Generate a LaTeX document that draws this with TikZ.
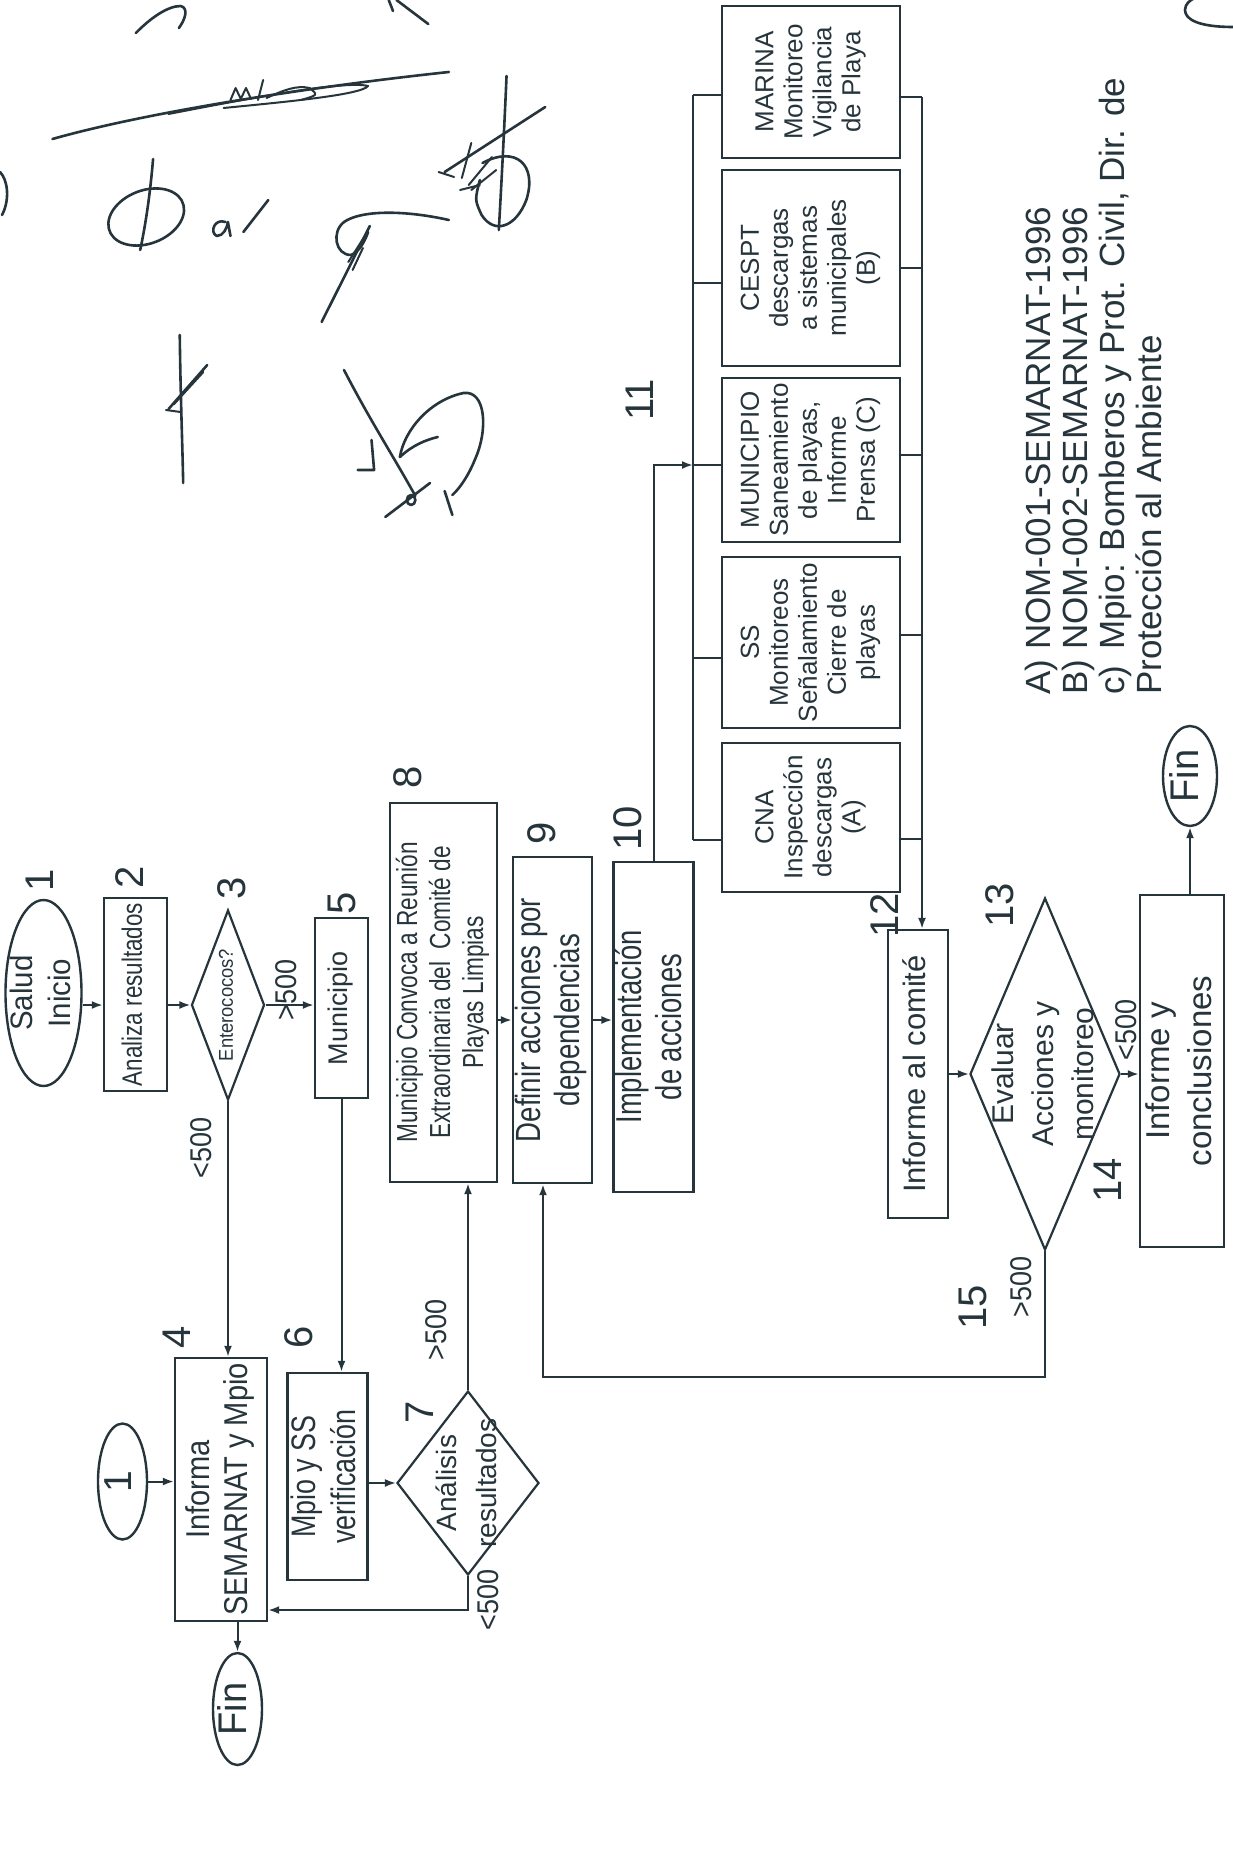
\documentclass[tikz,border=0pt]{standalone}
\usepackage{fontspec}
\setmainfont{Liberation Sans}
\usetikzlibrary{shapes.geometric,arrows.meta,calc}
\definecolor{ink}{RGB}{38,52,60}
\newcommand{\rtxt}[4]{{\fontsize{#1}{#2}\selectfont\rotatebox{90}{\scalebox{#3}[1]{\begin{tabular}{@{}c@{}}#4\end{tabular}}}}}
\begin{document}
\begin{tikzpicture}[x=1pt,y=-1pt,
  box/.style={draw=ink, line width=2.4pt, rectangle, inner sep=0pt, text=ink},
  fbox/.style={box, minimum width=178pt},
  oval/.style={draw=ink, line width=2.4pt, ellipse, inner sep=0pt},
  dia/.style={draw=ink, line width=2.2pt, diamond, inner sep=0pt},
  tx/.style={inner sep=0pt, text=ink},
  arr/.style={draw=ink, line width=2pt, -{Latex[length=11pt,width=8pt]}},
  ln/.style={draw=ink, line width=2pt},
  sig/.style={draw=ink, line width=2.6pt, line cap=round, line join=round}
]
\fill[white] (0,0) rectangle (1233,1852);
\useasboundingbox (0,0) rectangle (1233,1852);

% ---------- left part of the flow ----------
\node[oval, minimum width=76pt, minimum height=186pt] (E1) at (43.5,993) {};
\node[tx] (E1t) at (E1.center) {\rtxt{31}{38}{0.95}{Salud\\Inicio}};
\node[tx] (L1) at (45,880) {\rtxt{40}{44}{1}{1}};

\node[box, minimum width=63pt, minimum height=193pt] (B2) at (135.5,994.5) {\rtxt{28}{32}{0.8}{Analiza resultados}};
\node[tx] (L2) at (135,877) {\rtxt{40}{44}{1}{2}};

\node[dia, minimum width=73pt, minimum height=190pt] (D3) at (228,1005) {};
\node[tx] (D3t) at (D3.center) {\rtxt{20}{24}{0.92}{Enterococos?}};
\node[tx] (L3) at (237,888) {\rtxt{40}{44}{1}{3}};
\node[tx] (G3a) at (290,990) {\rtxt{30}{34}{0.9}{>500}};
\node[tx] (G3b) at (205,1148) {\rtxt{30}{34}{0.9}{<500}};

\node[box, minimum width=53pt, minimum height=180pt] (B5) at (341.5,1008) {\rtxt{27}{31}{1}{Municipio}};
\node[tx] (L5) at (347,903) {\rtxt{40}{44}{1}{5}};

\node[box, minimum width=92pt, minimum height=263pt] (B4) at (221,1489.5) {\rtxt{33}{38}{0.88}{Informa\\SEMARNAT y Mpio}};
\node[tx] (L4) at (182,1337) {\rtxt{40}{44}{1}{4}};

\node[oval, minimum width=49pt, minimum height=116pt] (C1) at (122.5,1481.5) {};
\node[tx] (C1t) at (C1.center) {\rtxt{39}{43}{1}{1}};

\node[oval, minimum width=49pt, minimum height=112pt] (FinB) at (237.5,1709) {};
\node[tx] (FinBt) at (FinB.center) {\rtxt{40}{44}{0.95}{Fin}};

\node[box, minimum width=69pt, minimum height=207pt] (B6) at (327.5,1476.5) {\rtxt{34}{40}{0.79}{Mpio y SS\\verificación}};
\node[tx] (L6) at (304,1337) {\rtxt{40}{44}{1}{6}};

\node[dia, minimum width=142pt, minimum height=184pt] (D7) at (468,1483) {};
\node[tx] (D7t) at (D7.center) {\rtxt{28}{40}{1}{Análisis\\resultados}};
\node[tx] (L7) at (425,1412) {\rtxt{40}{44}{1}{7}};
\node[tx] (G7a) at (440,1330) {\rtxt{30}{34}{0.9}{>500}};
\node[tx] (G7b) at (492,1600) {\rtxt{30}{34}{0.9}{<500}};

\node[box, minimum width=107pt, minimum height=379pt] (B8) at (443.5,992.5) {\rtxt{29}{33}{0.78}{Municipio Convoca a Reunión\\Extraordinaria del\ \ Comité de\\Playas Limpias}};
\node[tx] (L8) at (413,777) {\rtxt{40}{44}{1}{8}};

\node[box, minimum width=79pt, minimum height=326pt] (B9) at (552.5,1020) {\rtxt{35}{39}{0.79}{Definir acciones por\\dependencias}};
\node[tx] (L9) at (547,833) {\rtxt{40}{44}{1}{9}};

\node[box, minimum width=73pt, minimum height=330pt] (B10) at (653.5,1027) {\rtxt{36}{40}{0.76}{Implementación\\de acciones}};
\node[tx] (L10) at (633,828) {\rtxt{40}{44}{1}{10}};
\node[tx] (L11) at (645,400) {\rtxt{40}{44}{1}{11}};

% ---------- fan-out of dependencies ----------
\node[fbox, minimum height=152pt] (MAR) at (811,82) {\rtxt{26}{29}{1}{MARINA\\Monitoreo\\Vigilancia\\de Playa}};
\node[fbox, minimum height=196pt] (CES) at (811,268) {\rtxt{26}{29}{1}{CESPT\\descargas\\a sistemas\\municipales\\(B)}};
\node[fbox, minimum height=164pt] (MUN) at (811,460) {\rtxt{26}{29}{1}{MUNICIPIO\\Saneamiento\\de playas,\\Informe\\Prensa (C)}};
\node[fbox, minimum height=171pt] (SS) at (811,642.5) {\rtxt{26}{29}{1}{SS\\Monitoreos\\Señalamiento\\Cierre de\\playas}};
\node[fbox, minimum height=149pt] (CNA) at (811,817.5) {\rtxt{26}{29}{1}{CNA\\Inspección\\descargas\\(A)}};

% ---------- right part of the flow ----------
\node[box, minimum width=60pt, minimum height=288pt] (B12) at (918,1074) {\rtxt{31}{35}{1}{Informe al comité}};
\node[tx] (L12) at (890,915) {\rtxt{40}{44}{1}{12}};

\node[dia, minimum width=150pt, minimum height=352pt] (D13) at (1045,1074) {};
\node[tx] (D13t) at (D13.center) {\rtxt{30}{40}{1}{Evaluar\\Acciones y\\monitoreo}};
\node[tx] (L13) at (1005,905) {\rtxt{40}{44}{1}{13}};
\node[tx] (L14) at (1113,1180) {\rtxt{40}{44}{1}{14}};
\node[tx] (G13a) at (1130,1030) {\rtxt{30}{34}{0.9}{<500}};
\node[tx] (L15) at (978,1307) {\rtxt{40}{44}{1}{15}};
\node[tx] (G13b) at (1025,1287) {\rtxt{30}{34}{0.9}{>500}};

\node[box, minimum width=70pt, minimum height=352pt] (B14) at (1182,1071) {\rtxt{33}{42}{1}{Informe y\\conclusiones}};
\node[oval, minimum width=54pt, minimum height=100pt] (FinR) at (1190,776) {};
\node[tx] (FinRt) at (FinR.center) {\rtxt{40}{44}{0.95}{Fin}};

% ---------- legend ----------
\node[tx, anchor=south] (N1) at (1043,695) {\rtxt{35}{38}{1}{\makebox[45pt][l]{A)}NOM-001-SEMARNAT-1996}};
\node[tx, anchor=south] (N2) at (1080,695) {\rtxt{35}{38}{1}{\makebox[45pt][l]{B)}NOM-002-SEMARNAT-1996}};
\node[tx, anchor=south] (N3) at (1117,695) {\rtxt{35}{38}{1}{\makebox[45pt][l]{c)}Mpio: Bomberos y Prot. Civil, Dir. de}};
\node[tx, anchor=south] (N4) at (1154,695) {\rtxt{35}{38}{1}{Protección al Ambiente}};

% ---------- connectors ----------
\draw[arr] (E1.east |- D3.west) -- (B2.west |- D3.west);
\draw[arr] (B2.east |- D3.west) -- (D3.west);
\draw[arr] (D3.east) -- (B5.west |- D3.east);
\draw[arr] (D3.south) -- (D3.south |- B4.north);
\draw[arr] (B5.south) -- (B5.south |- B6.north);
\draw[arr] (C1.east) -- (B4.west |- C1.east);
\draw[arr] (B4.south -| FinB.north) -- (FinB.north);
\draw[arr] (B6.east |- D7.west) -- (D7.west);
\draw[arr] (D7.north) -- (D7.north |- B8.south);
\coordinate (k7) at (468,1610);
\draw[arr] (D7.south) -- (k7) -- (k7 -| B4.east);
\draw[arr] (B8.east |- B9.west) -- (B9.west);
\draw[arr] (B9.east) -- (B9.east -| B10.west);

% to the fan-out bus
\coordinate (up) at (653.5,465);
\coordinate (lb) at (693,465);
\draw[arr] (B10.north) -- (up) -- (lb);
\coordinate (lbT) at (693,95);
\coordinate (lbB) at (693,840);
\draw[ln] (lbT) -- (lbB);
\coordinate (lb2) at (693,283);
\coordinate (lb4) at (693,658);
\draw[ln] (lbT) -- (lbT -| MAR.west);
\draw[ln] (lb2) -- (lb2 -| CES.west);
\draw[ln] (lb) -- (lb -| MUN.west);
\draw[ln] (lb4) -- (lb4 -| SS.west);
\draw[ln] (lbB) -- (lbB -| CNA.west);
% right bus
\coordinate (rbT) at (922,97);
\coordinate (rb2) at (922,268);
\coordinate (rb3) at (922,455);
\coordinate (rb4) at (922,635);
\coordinate (rb5) at (922,839);
\draw[ln] (MAR.east |- rbT) -- (rbT);
\draw[ln] (CES.east |- rb2) -- (rb2);
\draw[ln] (MUN.east |- rb3) -- (rb3);
\draw[ln] (SS.east |- rb4) -- (rb4);
\draw[ln] (CNA.east |- rb5) -- (rb5);
\draw[arr] (rbT) -- (rbT |- B12.north);

\draw[arr] (B12.east) -- (D13.west);
\draw[arr] (D13.east) -- (D13.east -| B14.west);
\draw[arr] (B14.north -| FinR.south) -- (FinR.south);
\coordinate (k13) at (1045,1377);
\coordinate (k9) at (543,1377);
\draw[arr] (D13.south) -- (k13) -- (k9) -- (k9 |- B9.south);

% ---------- signatures ----------
\begin{scope}[xscale=0.86]
\draw[sig] (158,33) .. controls (175,18) and (195,6) .. (210,6) .. controls (220,8) and (215,20) .. (208,28);
\draw[sig] (452,0) -- (457,11);
\draw[sig] (461,0) -- (498,24);
\draw[sig] (61,139) .. controls (180,110) and (380,85) .. (522,72);
\draw[sig, line width=2pt] (196,114) .. controls (280,100) and (400,80) .. (428,86) .. controls (420,95) and (330,102) .. (260,108);
\draw[sig, line width=2pt] (268,100) -- (274,88) -- (280,99) -- (286,88) -- (292,99);
\draw[sig, line width=2pt] (300,100) -- (306,80);
\draw[sig, line width=2pt] (310,98) .. controls (330,90) and (345,85) .. (360,88) .. controls (370,95) .. (350,100);
\draw[sig, rotate around={15:(170,217)}] (170,217) ellipse [x radius=45pt, y radius=27pt];
\draw[sig] (178,159) .. controls (174,200) and (168,230) .. (163,250);
\draw[sig] (262,222) .. controls (250,218) and (243,232) .. (252,236) .. controls (260,236) and (264,228) .. (265,222) -- (268,236);
\draw[sig] (283,232) -- (312,200);
\begin{scope}[yshift=-15pt]
\draw[sig] (589,61) .. controls (586,120) and (583,170) .. (580,215);
\draw[sig] (561,148) .. controls (600,130) and (625,150) .. (612,185) .. controls (600,212) and (575,220) .. (560,200) .. controls (552,185) .. (558,165);
\draw[sig] (517,157) -- (634,92);
\draw[sig, line width=2pt] (510,157) -- (528,162);
\draw[sig, line width=2pt] (537,163) -- (548,128);
\draw[sig, line width=2pt] (545,170) -- (572,142);
\draw[sig, line width=2pt] (548,175) -- (577,155);
\draw[sig, line width=2pt] (535,175) -- (558,170);
\end{scope}
\draw[sig] (522,220) .. controls (470,210) and (420,210) .. (400,222) .. controls (385,232) and (390,255) .. (408,255) .. controls (418,252) and (425,240) .. (428,232);
\draw[sig] (374,322) -- (430,226);
\draw[sig, line width=2pt] (405,262) -- (425,235);
\draw[sig, line width=2pt] (410,270) -- (422,248);
\draw[sig] (209,335) .. controls (210,400) and (212,440) .. (213,483);
\draw[sig] (196,409) -- (241,365);
\draw[sig] (202,404) -- (236,372);
\draw[sig, line width=2pt] (193,410) -- (210,412);
\draw[sig] (400,370) .. controls (430,420) and (460,460) .. (483,496);
\draw[sig] (416,470) -- (435,470) -- (432,440);
\draw[sig] (465,457) .. controls (470,430) and (500,400) .. (539,393) .. controls (565,390) and (568,430) .. (552,460) .. controls (545,475) and (535,488) .. (526,495);
\draw[sig] (465,457) .. controls (480,445) and (495,440) .. (509,437);
\draw[sig] (448,517) -- (500,483);
\draw[sig] (478,500) circle [radius=5pt];
\draw[sig] (517,491) -- (526,515);
\end{scope}
\draw[sig] (0,172) .. controls (8,180) and (10,200) .. (2,215);
\draw[sig] (1233,27) .. controls (1200,27) and (1185,20) .. (1185,10) .. controls (1185,4) and (1190,0) .. (1195,-2);
\end{tikzpicture}
\end{document}
